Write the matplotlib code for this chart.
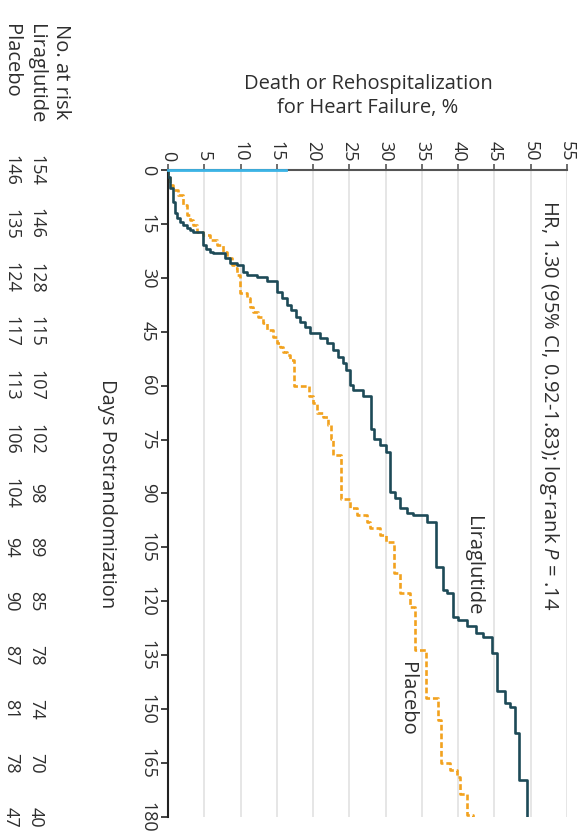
import numpy as np
import matplotlib.pyplot as plt
from matplotlib.transforms import blended_transform_factory

plt.rcParams['font.family'] = ['Open Sans', 'DejaVu Sans']
plt.rcParams['mathtext.fontset'] = 'custom'
plt.rcParams['mathtext.rm'] = 'Open Sans'
plt.rcParams['mathtext.it'] = 'Open Sans:italic'

# Kaplan-Meier events: day of event and cumulative % after it
lira_days = [0, 2, 5, 9, 12, 13.4, 14.5, 15.3, 16.2, 16.7, 17.2, 20.9, 22, 22.7, 23.2,
             24.5, 26, 26.5, 28.3, 29.2, 29.7, 31, 33.9, 35.6, 37.5, 39, 40.8, 42.2, 43.6,
             45.4, 46.8, 48.2, 50, 51.9, 53.7, 55.6, 59.8, 61.2, 63, 72, 74.7, 76.5, 78.4,
             89.5, 91.3, 94.1, 95.5, 96, 97.8, 110.4, 116.9, 117.8, 124.3, 125.2, 127,
             128.9, 129.8, 134.5, 145, 148.4, 149.3, 156.7, 169.7]
lira_pct = [0, 0.3, 0.65, 1.0, 1.3, 1.65, 2.1, 2.6, 3.1, 3.5, 4.8, 5.3, 5.8, 6.2, 7.9,
            8.55, 9.5, 10.4, 10.85, 12.2, 13.6, 15.0, 15.7, 16.4, 17.0, 17.6, 18.2, 18.9, 19.6,
            21.0, 21.9, 22.8, 23.4, 24.1, 24.6, 25.1, 25.5, 26.9, 28.0, 28.4, 29.2, 30.1, 30.6,
            31.3, 32.0, 32.9, 33.8, 35.7, 36.9, 37.9, 38.4, 39.3, 40.0, 41.2, 42.5,
            43.4, 44.6, 45.4, 46.5, 47.2, 47.9, 48.4, 49.5]

plac_days = [0, 1.4, 4.2, 5.6, 7, 9.7, 12.5, 14, 15.3, 17.2, 18.1, 19.5, 20.9, 22.7, 24.6,
             26.4, 27.3, 29.2, 34.3, 35.7, 38, 39.5, 40.8, 42.5, 44.5, 46.4, 48, 49.2, 50.5,
             51.5, 52.9, 60, 63, 64.9, 67.7, 68.6, 71, 74.7, 79.3, 91.4, 94.1, 96, 97.8,
             99.7, 101.6, 103.4, 112.2, 117.8, 121.5, 133.5, 147, 153, 165.1, 166.9, 168.8,
             173.5, 179.5]
plac_pct = [0, 0.3, 0.7, 1.4, 2.1, 2.6, 3.0, 3.5, 4.0, 4.8, 5.8, 6.7, 7.6, 8.1, 8.8,
            9.2, 9.45, 9.9, 10.85, 11.3, 11.7, 12.4, 13.1, 13.6, 14.5, 15.0, 15.5, 15.9, 16.4,
            16.8, 17.3, 19.5, 20.0, 20.5, 21.4, 22.0, 22.4, 22.8, 23.8, 25.1, 26.0, 27.4, 27.9,
            29.2, 30.1, 31.1, 32.0, 33.4, 34.1, 35.6, 37.2, 37.6, 38.9, 39.8, 40.3,
            41.2, 42.0]

risk_days = list(range(0, 181, 15))
lira_risk = [154, 146, 128, 115, 107, 102, 98, 89, 85, 78, 74, 70, 40]
plac_risk = [146, 135, 124, 117, 113, 106, 104, 94, 90, 87, 81, 78, 47]

follow_up = 180
lira_color = '#1d4a57'
plac_color = '#f2a21e'
txt = '#2e2e2e'
fs = 13      # numbers
fs_lab = 14.5  # words

W, H = 583, 838
fig = plt.figure(figsize=(W / 100, H / 100), dpi=100)


def fx(px):
    return px / W


def fy(py):
    return 1 - py / H


# days run down the page, percent runs across
ax = fig.add_axes([fx(168), fy(817), fx(567) - fx(168), fy(170) - fy(817)])
ax.set_xlim(0, 55)
ax.set_ylim(follow_up, 0)

ld = np.append(lira_days, follow_up)
lp = np.append(lira_pct, lira_pct[-1])
pd_ = np.append(plac_days, follow_up)
pp = np.append(plac_pct, plac_pct[-1])
ax.step(lp, ld, where='pre', color=lira_color, lw=1.9, zorder=4)
ax.step(pp, pd_, where='pre', color=plac_color, lw=1.9, zorder=3,
        linestyle=(0, (2.2, 1.1)))

ax.xaxis.tick_top()
ax.set_xticks(range(0, 56, 5))
ax.set_yticks(risk_days)
ax.xaxis.grid(True, color='#e2e2e2', lw=1.2)
ax.set_axisbelow(True)
ax.tick_params(axis='x', direction='out', length=4, width=1.2, color='#555555',
               pad=2, labelsize=fs, labelcolor=txt, labelrotation=-90)
ax.tick_params(axis='y', direction='out', length=5, width=1.2, color='#222222',
               pad=3, labelsize=fs, labelcolor=txt, labelrotation=-90)
for lbl in ax.get_yticklabels():
    lbl.set_va('center')

for side in ('right', 'bottom'):
    ax.spines[side].set_visible(False)
ax.spines['left'].set_color('#222222')
ax.spines['left'].set_linewidth(1.5)
ax.spines['top'].set_color('#555555')
ax.spines['top'].set_linewidth(1.5)
ax.plot([0, 16.3], [0, 0], color='#3cb4e6', lw=2, clip_on=False, zorder=5)

ax.text(52.5, 8.3, 'HR, 1.30 (95% CI, 0.92-1.83); log-rank $P$ = .14',
        rotation=-90, ha='center', va='top', fontsize=fs_lab, color=txt)
ax.text(42.0, 110, 'Liraglutide', rotation=-90, ha='center', va='center',
        fontsize=fs_lab, color=txt)
ax.text(33.0, 147, 'Placebo', rotation=-90, ha='center', va='center',
        fontsize=fs_lab, color=txt)

fig.text(fx(368), fy(96), 'Death or Rehospitalization\nfor Heart Failure, %',
         ha='center', va='center', linespacing=1.2, fontsize=fs_lab, color=txt)

trans = blended_transform_factory(fig.transFigure, ax.transData)
ax.text(fx(107), 90, 'Days Postrandomization', rotation=-90, ha='center',
        va='center', transform=trans, fontsize=fs_lab, color=txt)

# number at risk table
fig.text(fx(61), fy(24), 'No. at risk', rotation=-90, ha='center', va='top',
         fontsize=fs_lab, color=txt)
fig.text(fx(36), fy(24), 'Liraglutide', rotation=-90, ha='center', va='top',
         fontsize=fs_lab, color=txt)
fig.text(fx(11), fy(24), 'Placebo', rotation=-90, ha='center', va='top',
         fontsize=fs_lab, color=txt)
for d, a, b in zip(risk_days, lira_risk, plac_risk):
    ax.text(fx(36), d, str(a), rotation=-90, ha='center', va='center',
            transform=trans, fontsize=fs, color=txt, clip_on=False)
    ax.text(fx(11), d, str(b), rotation=-90, ha='center', va='center',
            transform=trans, fontsize=fs, color=txt, clip_on=False)

fig.savefig('out.png', dpi=100)
